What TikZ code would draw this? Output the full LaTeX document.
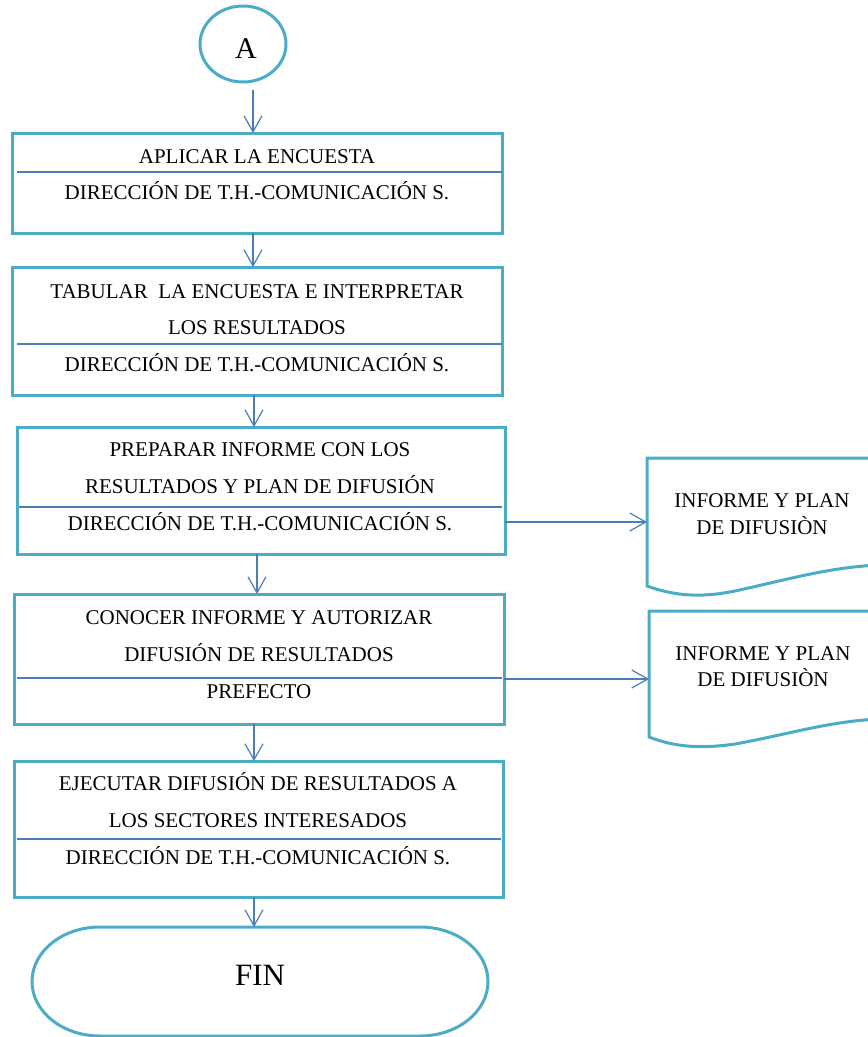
\documentclass[tikz,border=0pt]{standalone}
\usepackage{fontspec}
\setmainfont{Liberation Serif}
\usetikzlibrary{arrows.meta,calc,shapes.geometric}
\definecolor{frame}{HTML}{4BACC6}
\definecolor{link}{HTML}{4A7EBB}
\begin{document}
\begin{tikzpicture}[x=1pt,y=-1pt,
  stepbox/.style={draw=frame,line width=3pt,inner sep=0pt,outer sep=0pt},
  framed/.style={draw=frame,line width=3pt},
  divider/.style={draw=link,line width=1.2pt},
  arr/.style={draw=link,line width=1.2pt,-{Straight Barb[length=16pt,width=18pt,line width=1.2pt]}},
  txt/.style={font=\fontsize{21}{25}\selectfont,anchor=base,inner sep=0pt}]
\useasboundingbox (0,0) rectangle (868,1037);
\clip (0,0) rectangle (868,1037);

% start connector
\node[ellipse,framed,minimum width=86pt,minimum height=76pt,inner sep=0pt] (A) at (243,44) {};
\node[font=\fontsize{30}{34}\selectfont,anchor=base,inner sep=0pt] (Atxt) at (246,58) {A};

% process boxes
\node[stepbox,minimum width=490pt,minimum height=100pt] (b1) at (257,183) {};
\node[stepbox,minimum width=490pt,minimum height=128pt] (b2) at (257,331) {};
\node[stepbox,minimum width=488pt,minimum height=127pt] (b3) at (261,490.5) {};
\node[stepbox,minimum width=490pt,minimum height=130pt] (b4) at (259,659) {};
\node[stepbox,minimum width=489pt,minimum height=136pt] (b5) at (258.5,829) {};

% dividers between task and responsible
\draw[divider] (17,172) -- (502,172);
\draw[divider] (17,344) -- (502,344);
\draw[divider] (19,507) -- (502,507);
\draw[divider] (17,678) -- (502,678);
\draw[divider] (17,839) -- (501,839);

% box texts
\node[txt] (t11) at (257,163) {APLICAR LA ENCUESTA};
\node[txt] (t12) at (257,199) {DIRECCIÓN DE T.H.-COMUNICACIÓN S.};

\node[txt] (t21) at (257,298) {TABULAR~~LA ENCUESTA E INTERPRETAR};
\node[txt] (t22) at (257,334) {LOS RESULTADOS};
\node[txt] (t23) at (257,371) {DIRECCIÓN DE T.H.-COMUNICACIÓN S.};

\node[txt] (t31) at (260,456) {PREPARAR INFORME CON LOS};
\node[txt] (t32) at (260,493) {RESULTADOS Y PLAN DE DIFUSIÓN};
\node[txt] (t33) at (260,530) {DIRECCIÓN DE T.H.-COMUNICACIÓN S.};

\node[txt] (t41) at (259,624) {CONOCER INFORME Y AUTORIZAR};
\node[txt] (t42) at (259,661) {DIFUSIÓN DE RESULTADOS};
\node[txt] (t43) at (259,698) {PREFECTO};

\node[txt] (t51) at (258,790) {EJECUTAR DIFUSIÓN DE RESULTADOS A};
\node[txt] (t52) at (258,827) {LOS SECTORES INTERESADOS};
\node[txt] (t53) at (258,864) {DIRECCIÓN DE T.H.-COMUNICACIÓN S.};

% terminator
\node[minimum width=456pt,minimum height=109pt,inner sep=0pt,outer sep=0pt] (fin) at (260,981.5) {};
\draw[framed] ($(fin.north west)+(68,0)$) -- ($(fin.north east)+(-68,0)$)
  arc[start angle=-90,end angle=90,x radius=68,y radius=54.5]
  -- ($(fin.south west)+(68,0)$)
  arc[start angle=90,end angle=270,x radius=68,y radius=54.5] -- cycle;
\node[font=\fontsize{31}{35}\selectfont,anchor=base,inner sep=0pt] (fintxt) at (260,985) {FIN};

% documents
\coordinate (d1) at (647,522);
\draw[framed] (880,458) -- (647,458) -- (647,586)
  .. controls (675,596) and (700,598) .. (735,591)
  .. controls (790,579) and (830,567) .. (880,565);
\node[txt] (d1a) at (762,507) {INFORME Y PLAN};
\node[txt] (d1b) at (762,534) {DE DIFUSIÒN};

\coordinate (d2) at (649,679);
\draw[framed] (880,611) -- (649,611) -- (649,737)
  .. controls (675,747) and (700,749) .. (735,744)
  .. controls (790,734) and (830,721) .. (880,719);
\node[txt] (d2a) at (763,660) {INFORME Y PLAN};
\node[txt] (d2b) at (763,686) {DE DIFUSIÒN};

% connectors
\coordinate (a0) at ($(b1.north |- A.south)+(-4,6)$);
\draw[arr] (a0) -- (a0 |- b1.north);
\coordinate (a1) at ($(b1.south)+(-4,0)$);
\draw[arr] (a1) -- (a1 |- b2.north);
\coordinate (a2) at ($(b2.south)+(-3,0)$);
\draw[arr] (a2) -- (a2 |- b3.north);
\coordinate (a3) at ($(b3.south)+(-4,0)$);
\draw[arr] (a3) -- (a3 |- b4.north);
\coordinate (a4) at ($(b4.south)+(-5,0)$);
\draw[arr] (a4) -- (a4 |- b5.north);
\coordinate (a5) at ($(b5.south)+(-4.5,0)$);
\draw[arr] (a5) -- (a5 |- fin.north);

\draw[arr] (b3.east |- d1) -- (d1);
\draw[arr] (b4.east |- d2) -- (d2);
\end{tikzpicture}
\end{document}
